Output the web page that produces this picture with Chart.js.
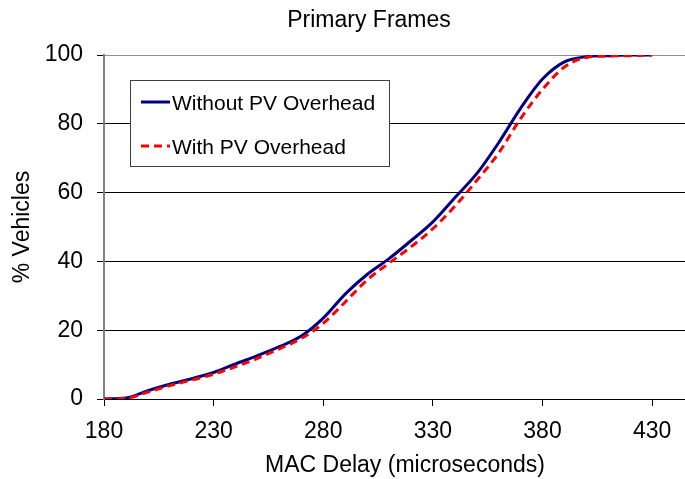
<!DOCTYPE html>
<html><head><meta charset="utf-8">
<script src="https://cdn.jsdelivr.net/npm/chart.js@4/dist/chart.umd.min.js"></script>
<style>html,body{margin:0;padding:0;background:#fff}#wrap{width:685px;height:479px}</style>
</head><body><div id="wrap"><canvas id="c" width="685" height="479"></canvas></div>
<script>
const chartTitle = 'Primary Frames';
const xAxisTitle = 'MAC Delay (microseconds)';
const yAxisTitle = '% Vehicles';
const seriesNames = ['Without PV Overhead', 'With PV Overhead'];
const delays    = [180, 190, 200, 210, 220, 230, 240, 250, 260, 270, 280, 290, 300, 310, 320, 330, 340, 350, 360, 370, 380, 390, 400, 410, 420, 430];
const withoutPV = [0, 0.3, 2.4, 4.3, 5.9, 7.7, 10.2, 12.6, 15.2, 18.3, 23.5, 30.5, 36.2, 40.8, 46.0, 51.5, 58.5, 65.5, 74.5, 84.5, 93.0, 98.0, 99.5, 99.8, 100, 100];
const withPV    = [0, 0.2, 2.0, 3.9, 5.5, 7.2, 9.4, 11.8, 14.6, 17.6, 22.0, 28.2, 34.6, 39.5, 44.2, 49.5, 56.0, 63.5, 71.5, 81.5, 90.0, 96.5, 99.3, 99.7, 99.8, 100];
const xTickValues = [180, 230, 280, 330, 380, 430];
const yTickValues = [0, 20, 40, 60, 80, 100];

const FONT = "'Liberation Sans', Arial, sans-serif";
const colors = ['#000080', '#ff0000'];
const dashes = [[], [8, 5]];

const overlay = {
  id: 'overlay',
  afterDraw(chart) {
    const ctx = chart.ctx;
    ctx.save();
    ctx.fillStyle = '#000';
    ctx.textAlign = 'center';
    ctx.textBaseline = 'alphabetic';
    ctx.font = '23px ' + FONT;
    ctx.fillText(chartTitle, 369, 27);
    ctx.fillText(xAxisTitle, 405, 472);
    // legend box
    const bx = 130.5, by = 80.5, bw = 259, bh = 86;
    ctx.fillStyle = '#fff';
    ctx.fillRect(bx, by, bw, bh);
    ctx.strokeStyle = '#404040';
    ctx.lineWidth = 1;
    ctx.strokeRect(bx, by, bw, bh);
    const rows = [102, 146];
    chart.data.datasets.forEach((ds, i) => {
      const y = rows[i];
      ctx.beginPath();
      ctx.setLineDash(dashes[i]);
      ctx.strokeStyle = colors[i];
      ctx.lineWidth = 3;
      ctx.moveTo(141, y); ctx.lineTo(170, y);
      ctx.stroke();
      ctx.setLineDash([]);
      ctx.fillStyle = '#000';
      ctx.textAlign = 'left';
      ctx.textBaseline = 'alphabetic';
      ctx.font = '21px ' + FONT;
      ctx.fillText(ds.label, 172, y + 7.5);
    });
    ctx.restore();
  }
};

new Chart(document.getElementById('c'), {
  type: 'line',
  data: {
    datasets: [
      { label: seriesNames[0], data: delays.map((x, i) => ({ x, y: withoutPV[i] })),
        borderColor: colors[0], borderWidth: 3, pointRadius: 0, fill: false,
        cubicInterpolationMode: 'monotone', order: 1 },
      { label: seriesNames[1], data: delays.map((x, i) => ({ x, y: withPV[i] })),
        borderColor: colors[1], borderWidth: 3, borderDash: dashes[1], pointRadius: 0, fill: false,
        cubicInterpolationMode: 'monotone', order: 0 }
    ]
  },
  options: {
    responsive: false, animation: false,
    layout: { padding: { top: 55, right: 0, bottom: 0, left: 0 } },
    plugins: { legend: { display: false }, title: { display: false }, tooltip: { enabled: false } },
    scales: {
      x: {
        type: 'linear', min: 180, max: 445,
        afterBuildTicks: s => { s.ticks = xTickValues.map(v => ({ value: v })); },
        afterFit: s => { s.height = 80; },
        grid: { drawOnChartArea: false, drawTicks: true, tickLength: 7, color: '#000', lineWidth: 1 },
        border: { color: '#000', width: 1 },
        ticks: { color: '#000', font: { family: FONT, size: 23 }, padding: 12, maxRotation: 0, autoSkip: false }
      },
      y: {
        min: 0, max: 100,
        afterBuildTicks: s => { s.ticks = yTickValues.map(v => ({ value: v })); },
        afterFit: s => { s.width = 104; },
        grid: { color: c => (c.tick && c.tick.value === 100) ? '#909090' : '#000', tickColor: '#000', tickLength: 7, lineWidth: 1 },
        border: { color: '#808080', width: 2 },
        ticks: { color: '#000', font: { family: FONT, size: 23 }, padding: 14 },
        title: { display: true, text: yAxisTitle, color: '#000', font: { family: FONT, size: 23 }, padding: { top: 9, bottom: 0 } }
      }
    }
  },
  plugins: [overlay]
});
</script>
</body></html>
